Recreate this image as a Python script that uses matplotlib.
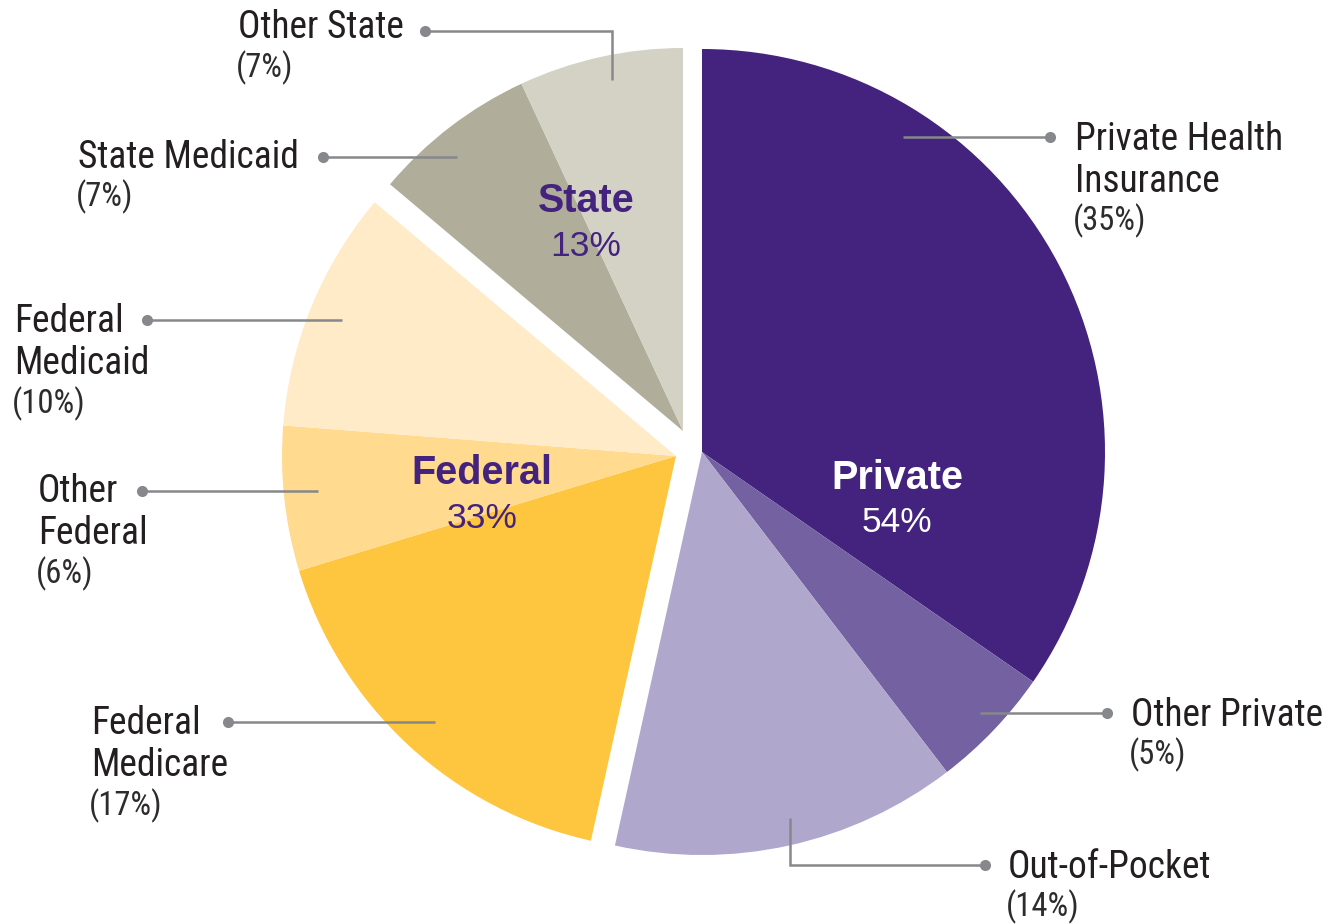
import matplotlib
matplotlib.use("Agg")
import matplotlib.pyplot as plt
from matplotlib import font_manager
import numpy as np

# ---- data -------------------------------------------------------------
groups = ["Private", "Federal", "State"]
group_pct = [54, 33, 13]

private_labels = ["Private Health\nInsurance", "Other Private", "Out-of-Pocket"]
private_values = [35, 5, 14]

federal_labels = ["Federal\nMedicare", "Other\nFederal", "Federal\nMedicaid"]
federal_values = [17, 6, 10]

state_labels = ["State Medicaid", "Other State"]
state_values = [7, 7]

# ---- styling ----------------------------------------------------------
private_colors = ["#43237E", "#7461A1", "#B0A7CD"]
federal_colors = ["#FEC53E", "#FFDA8F", "#FFEBC7"]
state_colors = ["#B0AE9B", "#D4D2C5"]

installed = {f.name for f in font_manager.fontManager.ttflist}
narrow = next((f for f in ["Roboto Condensed", "Liberation Sans Narrow",
                           "Open Sans Condensed", "DejaVu Sans Condensed",
                           "Roboto"] if f in installed), "DejaVu Sans")
bold_family = "Liberation Sans" if "Liberation Sans" in installed else "DejaVu Sans"

W, H = 1330, 924
fig = plt.figure(figsize=(W / 100, H / 100), dpi=100)
ax = fig.add_axes([0, 0, 1, 1])


def Y(y):
    """Convert a top-down pixel row to the axis y value."""
    return H - y


total = sum(private_values) + sum(federal_values) + sum(state_values)

# each group is drawn as its own partial pie, pulled apart from the others
group_geom = {
    "Private": dict(center=(702, Y(452)), radius=403),
    "Federal": dict(center=(676, Y(456)), radius=394),
    "State": dict(center=(683, Y(431)), radius=383),
}
group_data = [
    ("Private", private_values, private_colors),
    ("Federal", federal_values, federal_colors),
    ("State", state_values, state_colors),
]

start = 90.0
for name, vals, cols in group_data:
    g = group_geom[name]
    ax.pie(np.array(vals) / total, colors=cols, startangle=start,
           counterclock=False, normalize=False, center=g["center"],
           radius=g["radius"], wedgeprops=dict(linewidth=0))
    start -= 360.0 * sum(vals) / total

ax.set_xlim(0, W)
ax.set_ylim(0, H)
ax.set_aspect("equal")
ax.axis("off")

# ---- group labels -----------------------------------------------------
group_text = {
    "Private": ((897, 478), "white"),
    "Federal": ((482, 473), "#43237E"),
    "State": ((586, 201), "#43237E"),
}
for name, pct in zip(groups, group_pct):
    (gx, gy), col = group_text[name]
    ax.text(gx, Y(gy), name, ha="center", va="center", fontsize=28.5,
            fontweight="bold", color=col, family=bold_family)
    ax.text(gx, Y(gy + 45), f"{pct}%", ha="center", va="center",
            fontsize=25.5, color=col, family=bold_family)

# ---- callouts ----------------------------------------------------------
line_col = "#86888B"
text_col = "#231F20"
step = 42

callouts = [
    # label, value, text x, first line y, leader path (dot first)
    (private_labels[0], private_values[0], 1075, 137, [(1050, 137), (903, 137)]),
    (private_labels[1], private_values[1], 1131, 713, [(1107, 713), (980, 713)]),
    (private_labels[2], private_values[2], 1008, 865, [(985, 865), (790, 865), (790, 818)]),
    (federal_labels[0], federal_values[0], 91, 722, [(228, 722), (435, 722)]),
    (federal_labels[1], federal_values[1], 38, 490, [(142, 491), (318, 491)]),
    (federal_labels[2], federal_values[2], 14, 320, [(147, 320), (342, 320)]),
    (state_labels[0], state_values[0], 78, 155, [(323, 157), (457, 157)]),
    (state_labels[1], state_values[1], 238, 26, [(425, 31), (612, 31), (612, 80)]),
]

for label, val, tx, ty, path in callouts:
    lines = label.split("\n")
    for i, ln in enumerate(lines):
        ax.text(tx, Y(ty + 2 + i * step), ln, ha="left", va="center",
                fontsize=27, color=text_col, family=narrow)
    ax.text(tx - 2, Y(ty + len(lines) * step), f"({val}%)", ha="left",
            va="center", fontsize=23.5, color="#2E2B2C", family=narrow)
    xs = [p[0] for p in path]
    ys = [Y(p[1]) for p in path]
    ax.plot(xs, ys, color=line_col, lw=1.8, solid_capstyle="butt",
            solid_joinstyle="miter")
    ax.plot(xs[0], ys[0], "o", color=line_col, markersize=8, markeredgewidth=0)

fig.savefig("out.png", dpi=100, facecolor="white")
